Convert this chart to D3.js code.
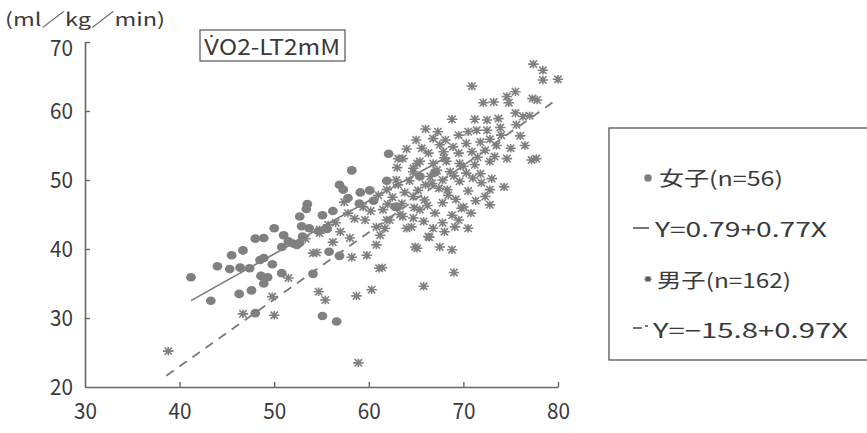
<!DOCTYPE html>
<html><head><meta charset="utf-8">
<script src="https://cdn.jsdelivr.net/npm/d3@7"></script>
<style>
html,body{margin:0;padding:0;background:#fff;}
svg{display:block;}
text{font-family:"Noto Sans CJK JP","Noto Sans",sans-serif;fill:#3a3a3a;}
</style></head>
<body><svg id="c" width="867" height="433"></svg>
<script>
// ---- data ----
const xTicks = [30, 40, 50, 60, 70, 80];
const yTicks = [20, 30, 40, 50, 60, 70];
const yUnit = "(ml／kg／min)";
const titleV = "V\u0307";
const titleRest = "O2-LT2mM";

const femaleX = [41.2,43.3,45.5,46.7,45.3,46.4,47.4,48.0,48.9,48.5,48.9,46.3,47.6,48.6,49.3,48.9,48.0,50.0,51.0,50.8,52.0,52.4,50.8,52.7,53.5,53.4,55.1,56.2,54.1,55.1,56.6,55.8,56.9,52.7,52.9,53.7,54.7,55.6,56.9,57.3,58.2,59.1,60.1,59.0,61.9,62.1,62.8,63.0,65.4,67.0,49.8,51.5,57.8,60.5,44.0,53.0];
const femaleY = [35.9,32.5,39.1,39.8,37.1,37.3,37.2,41.5,41.6,38.4,38.7,33.5,34.0,36.1,35.9,35.0,30.7,43.0,42.0,40.3,40.8,40.6,36.5,44.7,46.5,45.8,44.9,45.5,36.4,30.3,29.5,39.6,39.0,40.9,43.3,43.0,42.6,42.9,49.3,48.6,51.4,48.2,48.5,46.6,49.9,53.8,46.1,46.1,50.5,51.1,37.8,41.1,47.4,47.0,37.5,41.8];

const maleX = [38.8,46.7,50.0,49.8,51.5,54.5,54.7,55.4,54.8,55.7,54.8,54.1,58.2,59.8,61.1,58.7,60.3,58.9,65.1,65.8,57.4,59.4,58.5,59.6,61.9,61.2,60.8,60.8,
61.9,63.5,61.5,62.2,61.7,63.6,64.7,65.8,64.5,65.4,65.9,64.7,68.8,69.8,69.1,70.5,69.5,66.4,67.5,68.8,61.4,69.0,64.9,66.3,64.0,70.0,
62.9,63.1,63.1,64.7,65.1,66.0,66.7,67.4,68.3,69.6,71.0,71.9,72.8,72.3,72.8,
77.4,78.4,78.4,80.0,70.9,72.1,73.2,74.6,75.5,74.8,77.3,77.8,
68.8,71.2,72.5,73.7,75.5,76.3,77.0,73.9,75.6,76.0,71.4,72.5,70.5,69.5,68.1,66.8,67.5,68.9,70.3,71.8,72.8,65.6,66.3,67.9,69.5,70.9,72.3,73.3,74.6,77.7,77.2,63.6,65.4,66.8,68.2,69.6,71.2,72.8,64.7,67.2,68.6,70.3,71.8,
62.5,63.8,64.3,65.2,66.2,67.0,67.8,68.4,69.2,70.5,71.3,70.8,66.5,67.8,69.0,63.0,64.0,65.0,66.0,67.3,68.0,70.0,71.5,73.5,74.0,73.0,74.3,75.0,76.5,62.0,60.2,61.0,63.3,64.8,66.8,67.8,68.0,
53.3,56.5,57.0,58.0,56.2,57.8];
const maleY = [25.2,30.6,30.4,33.1,35.8,39.5,33.8,32.6,42.8,43.5,42.3,39.4,38.8,39.1,37.2,33.2,34.1,23.5,40.1,34.6,46.8,46.1,44.4,44.2,44.2,42.0,43.2,40.6,
48.6,46.6,45.7,44.2,43.0,44.7,44.5,44.0,43.2,45.7,47.1,47.6,44.9,45.9,43.2,43.0,44.2,41.7,40.3,39.9,37.3,36.6,40.3,41.8,43.0,46.1,
50.0,53.1,49.3,51.2,52.4,49.3,49.5,48.8,48.6,49.8,50.3,49.6,48.6,47.6,46.4,
66.8,65.9,64.5,64.6,63.6,61.2,61.3,62.1,62.8,61.2,61.8,61.6,
58.8,58.8,58.7,58.9,59.7,59.2,59.3,57.6,58.0,56.4,57.2,57.2,57.0,56.5,55.8,56.0,55.1,54.8,55.3,55.5,55.9,54.6,53.9,54.1,53.9,54.1,54.3,53.4,53.1,53.1,52.9,53.1,52.7,52.4,52.7,52.4,52.2,52.7,51.7,51.4,51.2,51.0,50.9,
47.5,48.2,49.9,48.5,46.3,45.2,46.7,47.8,47.2,48.4,47.0,45.2,50.5,50.0,50.6,51.8,54.5,55.8,57.4,57.0,53.2,52.0,53.3,55.0,56.5,50.2,49.0,54.6,55.0,46.5,45.5,47.8,45.0,46.0,43.0,43.8,42.5,
41.5,43.8,42.5,41.6,41.0,45.2];

// regression lines: [intercept, slope], x-range
const femaleFit = [0.79, 0.77];
const femaleRange = [41.2, 68];
const maleFit = [-15.8, 0.97];
const maleRange = [38.6, 80];

const legendLabels = ["女子(n=56)", "Y=0.79+0.77X", "男子(n=162)", "Y=\u221215.8+0.97X"];

// ---- drawing ----
const svg = d3.select("#c");
const gray = "#808080";
const axisCol = "#666";
const FONT = "'Noto Sans CJK JP', 'Noto Sans', sans-serif";

const x = d3.scaleLinear().domain([30, 80]).range([85, 558]);
const y = d3.scaleLinear().domain([20, 70]).range([387, 42]);

// axes
const gx = svg.append("g").attr("transform", "translate(0,387)")
  .call(d3.axisBottom(x).tickValues(xTicks).tickSizeInner(-5).tickSizeOuter(0).tickPadding(16));
const gy = svg.append("g").attr("transform", "translate(85,0)")
  .call(d3.axisLeft(y).tickValues(yTicks).tickSizeInner(-5).tickSizeOuter(0).tickPadding(12));
[gx, gy].forEach(g => {
  g.attr("font-size", 22).attr("font-family", FONT);
  g.selectAll("path.domain").attr("stroke", axisCol).attr("stroke-width", 1.6);
  g.selectAll(".tick line").attr("stroke", axisCol).attr("stroke-width", 1.4);
  g.selectAll(".tick text").style("font-size", "22px").attr("fill", "#3a3a3a")
    .attr("textLength", 23).attr("lengthAdjust", "spacingAndGlyphs");
});
gy.selectAll(".tick text").attr("dy", d => d === 70 ? "0.62em" : "0.34em");
gx.selectAll(".tick text").attr("x", -11.5).attr("text-anchor", "start");
gy.selectAll(".tick line").filter(d => d === 20).remove();
gx.selectAll(".tick line").filter(d => d === 30).remove();

// unit label & title box
svg.append("text").attr("x", 5).attr("y", 26).style("font-size", "18px")
  .attr("textLength", 160).attr("lengthAdjust", "spacingAndGlyphs").text(yUnit);
svg.append("rect").attr("x", 200).attr("y", 30).attr("width", 145).attr("height", 31)
  .attr("fill", "none").attr("stroke", "#555").attr("stroke-width", 1.2);
svg.append("text").attr("x", 204).attr("y", 55).style("font-size", "22px")
  .style("font-family", "'DejaVu Sans', sans-serif").text(titleV);
svg.append("text").attr("x", 219).attr("y", 55).style("font-size", "22px")
  .attr("textLength", 121).attr("lengthAdjust", "spacingAndGlyphs").text(titleRest);

// regression lines
const line = d3.line().x(d => x(d[0])).y(d => y(d[1]));
svg.append("path")
  .datum(femaleRange.map(v => [v, femaleFit[0] + femaleFit[1] * v]))
  .attr("d", line).attr("fill", "none").attr("stroke", "#7a7a7a").attr("stroke-width", 1.6);
svg.append("path")
  .datum(maleRange.map(v => [v, maleFit[0] + maleFit[1] * v]))
  .attr("d", line).attr("fill", "none").attr("stroke", "#7a7a7a").attr("stroke-width", 1.8)
  .attr("stroke-dasharray", "9,7");

// asterisk symbol
const asterisk = {
  draw(ctx, size) {
    const r = Math.sqrt(size) / 2, v = r * 0.8, d = r * 0.7;
    ctx.moveTo(-r, 0); ctx.lineTo(r, 0);
    ctx.moveTo(0, -v); ctx.lineTo(0, v);
    ctx.moveTo(-d, -d); ctx.lineTo(d, d);
    ctx.moveTo(-d, d); ctx.lineTo(d, -d);
  }
};
const male = maleX.map((v, i) => [v, maleY[i]]);
const female = femaleX.map((v, i) => [v, femaleY[i]]);

svg.append("g").selectAll("path").data(male).join("path")
  .attr("transform", d => `translate(${x(d[0])},${y(d[1])})`)
  .attr("d", d3.symbol(asterisk, 110))
  .attr("fill", "none").attr("stroke", gray).attr("stroke-width", 1.6);

svg.append("g").selectAll("ellipse").data(female).join("ellipse")
  .attr("cx", d => x(d[0])).attr("cy", d => y(d[1]))
  .attr("rx", 4.9).attr("ry", 4.3).attr("fill", gray);

// legend
svg.append("rect").attr("x", 609).attr("y", 128).attr("width", 300).attr("height", 232)
  .attr("fill", "none").attr("stroke", "#555").attr("stroke-width", 1.3);
const lg = svg.append("g");
lg.append("circle").attr("cx", 648).attr("cy", 178).attr("r", 3.8).attr("fill", gray);
lg.append("text").attr("x", 659).attr("y", 186).style("font-size", "20px")
  .attr("textLength", 124).attr("lengthAdjust", "spacingAndGlyphs").text(legendLabels[0]);
lg.append("line").attr("x1", 633).attr("x2", 649).attr("y1", 228).attr("y2", 228)
  .attr("stroke", "#555").attr("stroke-width", 1.6);
lg.append("text").attr("x", 655).attr("y", 237).style("font-size", "20px")
  .attr("textLength", 172).attr("lengthAdjust", "spacingAndGlyphs").text(legendLabels[1]);
lg.append("path").attr("transform", "translate(648,279)").attr("d", d3.symbol(asterisk, 50))
  .attr("stroke", "#555").attr("stroke-width", 1.3).attr("fill", "none");
lg.append("text").attr("x", 657).attr("y", 288).style("font-size", "20px")
  .attr("textLength", 134).attr("lengthAdjust", "spacingAndGlyphs").text(legendLabels[2]);
lg.append("line").attr("x1", 633).attr("x2", 642).attr("y1", 328).attr("y2", 328)
  .attr("stroke", "#555").attr("stroke-width", 1.6);
lg.append("line").attr("x1", 645).attr("x2", 648).attr("y1", 326).attr("y2", 326)
  .attr("stroke", "#555").attr("stroke-width", 1.6);
lg.append("text").attr("x", 653).attr("y", 338).style("font-size", "20px")
  .attr("textLength", 195).attr("lengthAdjust", "spacingAndGlyphs").text(legendLabels[3]);
</script></body></html>
